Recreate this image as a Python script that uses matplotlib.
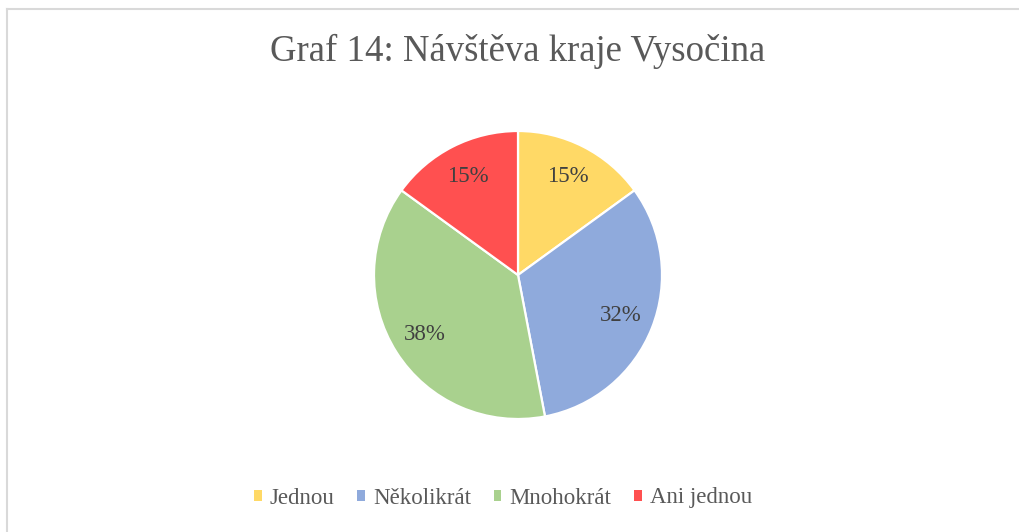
import matplotlib
matplotlib.use("Agg")
import matplotlib.pyplot as plt
from matplotlib.patches import Patch
from matplotlib.lines import Line2D

plt.rcParams['font.family'] = ['Liberation Serif', 'DejaVu Serif']

# data
labels = ['Jednou', 'Několikrát', 'Mnohokrát', 'Ani jednou']
values = [15, 32, 38, 15]
colors = ['#FFD966', '#8FAADC', '#A9D18E', '#FF5050']
title = 'Graf 14: Návštěva kraje Vysočina'

W, H = 1019, 532
fig = plt.figure(figsize=(W / 100, H / 100), dpi=100)
fig.patch.set_facecolor('white')

# light grey frame (top + left edges visible in the crop)
fig.add_artist(Line2D([7 / W, 7 / W], [0, 1 - 9 / H], transform=fig.transFigure,
                      color='#D9D9D9', lw=1.5))
fig.add_artist(Line2D([7 / W, 1], [1 - 9 / H, 1 - 9 / H], transform=fig.transFigure,
                      color='#D9D9D9', lw=1.5))

# pie centred at (518, 275) px, radius 144 px
cx, cy, r = 518, 275, 144
ax = fig.add_axes([(cx - r) / W, (H - cy - r) / H, 2 * r / W, 2 * r / H])
wedges, _, autotexts = ax.pie(values, colors=colors, startangle=90, counterclock=False,
                              autopct='%d%%', pctdistance=0.77,
                              wedgeprops=dict(edgecolor='white', linewidth=1.6),
                              textprops=dict(fontsize=16.5, color='#404040'))
ax.set_xlim(-1, 1)
ax.set_ylim(-1, 1)
ax.set_aspect('equal')
ax.axis('off')

fig.text(cx / W, 1 - 51 / H, title, ha='center', va='center',
         fontsize=26.5, color='#595959')

handles = [Patch(facecolor=c, edgecolor='none') for c in colors]
fig.legend(handles, labels, loc='center', bbox_to_anchor=(503 / W, 1 - 498 / H),
           ncol=4, frameon=False, fontsize=16.5, labelcolor='#595959',
           handlelength=0.33, handleheight=0.33, handletextpad=0.35,
           columnspacing=1.0)

fig.savefig('out.png', dpi=100)
